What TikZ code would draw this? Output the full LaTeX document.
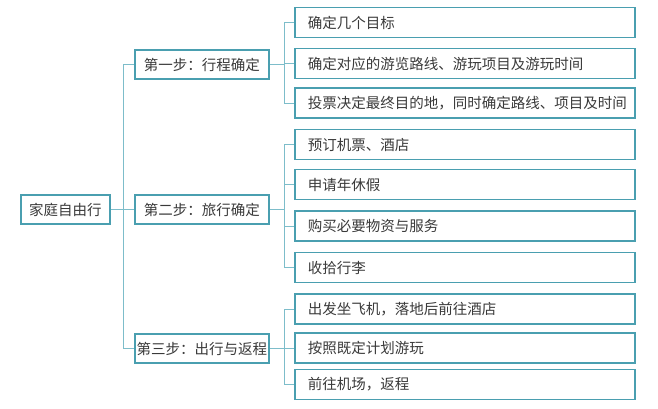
\documentclass[tikz,border=0pt]{standalone}
\usepackage{fontspec}
\newfontfamily\cjk{Noto Sans CJK SC}
\definecolor{boxline}{HTML}{4A9FB0}
\definecolor{conn}{HTML}{7DBDCA}
\definecolor{txt}{HTML}{3A3A3A}
\begin{document}
\begin{tikzpicture}[x=1pt,y=-1pt,
  every node/.style={font=\cjk\fontsize{14.5}{17}\selectfont, text=txt},
  leafbox/.style={draw=boxline, line width=1.6pt, anchor=west, inner xsep=13pt, inner ysep=0pt,
    text width=314pt, align=left, minimum height=30pt},
  stepbox/.style={draw=boxline, line width=1.6pt, anchor=west, inner sep=0pt,
    minimum width=134pt, minimum height=29pt},
  rootbox/.style={draw=boxline, line width=1.6pt, anchor=west, inner sep=0pt,
    minimum width=89pt, minimum height=29pt},
  link/.style={draw=conn, line width=0.9pt}]
\useasboundingbox (0,0) rectangle (658,408);
\fill[white] (0,0) rectangle (658,408);
% root and steps
\node[rootbox] (root) at (20,209.5) {家庭自由行};
\node[stepbox] (s1) at (134,64.5) {第一步：行程确定};
\node[stepbox] (s2) at (134,209.5) {第二步：旅行确定};
\node[stepbox] (s3) at (134,348.5) {第三步：出行与返程};
% leaves
\node[leafbox] (l1) at (294,22.5) {确定几个目标};
\node[leafbox] (l2) at (294,63.5) {确定对应的游览路线、游玩项目及游玩时间};
\node[leafbox] (l3) at (294,103) {投票决定最终目的地，同时确定路线、项目及时间};
\node[leafbox] (l4) at (294,144.5) {预订机票、酒店};
\node[leafbox] (l5) at (294,184.5) {申请年休假};
\node[leafbox] (l6) at (294,226) {购买必要物资与服务};
\node[leafbox] (l7) at (294,267.5) {收拾行李};
\node[leafbox] (l8) at (294,309) {出发坐飞机，落地后前往酒店};
\node[leafbox] (l9) at (294,348) {按照既定计划游玩};
\node[leafbox] (l10) at (294,384.5) {前往机场，返程};
% bus coordinates
\coordinate (b0) at (123,0);
\coordinate (b1) at (284,0);
\begin{scope}[on background layer/.try]
\end{scope}
% connectors
\path[link] (root.east) -- (s2.west);
\path[link] (s1.west) -- (s1.west -| b0) -- (s3.west -| b0) -- (s3.west);
\path[link] (s1.east) -- (s1.east -| b1);
\path[link] (s2.east) -- (s2.east -| b1);
\path[link] (s3.east) -- (s3.east -| b1);
\path[link] (l1.west) -- (l1.west -| b1) -- (l3.west -| b1) -- (l3.west);
\path[link] (l2.west) -- (l2.west -| b1);
\path[link] (l4.west) -- (l4.west -| b1) -- (l7.west -| b1) -- (l7.west);
\path[link] (l5.west) -- (l5.west -| b1);
\path[link] (l6.west) -- (l6.west -| b1);
\path[link] (l8.west) -- (l8.west -| b1) -- (l10.west -| b1) -- (l10.west);
\path[link] (l9.west) -- (l9.west -| b1);
\end{tikzpicture}
\end{document}
